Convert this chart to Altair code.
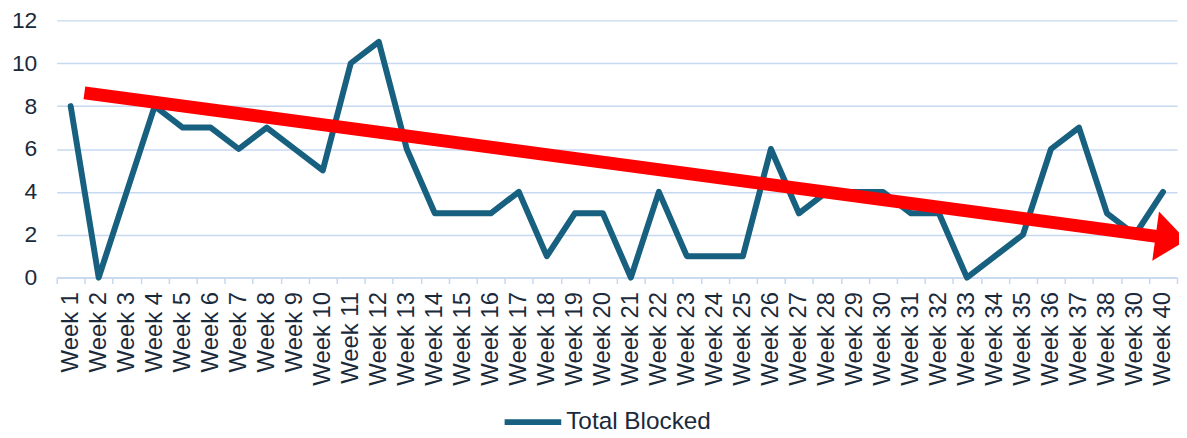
import altair as alt
import pandas as pd

weeks = list(range(1, 41))
week_labels = [
    "Week 1", "Week 2", "Week 3", "Week 4", "Week 5", "Week 6", "Week 7", "Week 8",
    "Week 9", "Week 10", "Week 11", "Week 12", "Week 13", "Week 14", "Week 15",
    "Week 16", "Week 17", "Week 18", "Week 19", "Week 20", "Week 21", "Week 22",
    "Week 23", "Week 24", "Week 25", "Week 26", "Week 27", "Week 28", "Week 29",
    "Week 30", "Week 31", "Week 32", "Week 33", "Week 34", "Week 35", "Week 36",
    "Week 37", "Week 38", "Week 30", "Week 40",
]
total_blocked = [8, 0, 4, 8, 7, 7, 6, 7, 6, 5,
                 10, 11, 6, 3, 3, 3, 4, 1, 3, 3,
                 0, 4, 1, 1, 1, 6, 3, 4, 4, 4,
                 3, 3, 0, 1, 2, 6, 7, 3, 2, 4]
series_name = "Total Blocked"

# hand-drawn trend arrow (in week / value units)
arrow_weeks = [1.49, 40.1]
arrow_values = [8.62, 1.87]
head_weeks = [40.22]
head_values = [1.85]

y_ticks = [0, 2, 4, 6, 8, 10, 12]

FONT = "Liberation Sans"
TEXT = "#1b2a3b"
GRID = "#c6d9f1"
LINE = "#17607f"
RED = "#ff0000"

df = pd.DataFrame({"week": weeks, "value": total_blocked, "series": series_name})
arrow_df = pd.DataFrame({"w": arrow_weeks, "v": arrow_values})
head_df = pd.DataFrame({"w": head_weeks, "v": head_values})

label_expr = "[" + ",".join("'%s'" % l for l in week_labels) + "][datum.value - 1]"

y_scale = alt.Scale(domain=[0, 12], nice=False, zero=True)
xq_scale = alt.Scale(domain=[0.5, 40.5], nice=False, zero=False)

line = alt.Chart(df).mark_line(strokeWidth=6, strokeJoin="round", strokeCap="round").encode(
    x=alt.X(
        "week:O",
        bandPosition=0.5,
        scale=alt.Scale(type="band", paddingInner=0, paddingOuter=0),
        axis=alt.Axis(
            title=None,
            labelExpr=label_expr,
            labelAngle=-90,
            labelFont=FONT,
            labelFontSize=24,
            labelColor=TEXT,
            labelPadding=8,
            tickBand="extent",
            ticks=True,
            tickSize=6,
            tickColor=GRID,
            tickWidth=1.5,
            domainColor=GRID,
            domainWidth=1.5,
            grid=False,
        ),
    ),
    y=alt.Y(
        "value:Q",
        scale=y_scale,
        axis=alt.Axis(
            title=None,
            values=y_ticks,
            grid=True,
            gridColor=GRID,
            gridWidth=1.5,
            domain=False,
            ticks=False,
            tickSize=0,
            labelFont=FONT,
            labelFontSize=23,
            labelColor=TEXT,
            labelPadding=20,
        ),
    ),
    color=alt.Color(
        "series:N",
        scale=alt.Scale(domain=[series_name], range=[LINE]),
        legend=alt.Legend(
            title=None,
            orient="none",
            legendX=448,
            legendY=373,
            symbolType="stroke",
            symbolSize=3249,
            symbolStrokeWidth=6,
            labelFont=FONT,
            labelFontSize=24.5,
            labelColor=TEXT,
            labelOffset=2,
            padding=0,
        ),
    ),
)

arrow = alt.Chart(arrow_df).mark_line(color=RED, strokeWidth=13, clip=False).encode(
    x=alt.X("w:Q", scale=xq_scale, axis=None),
    y=alt.Y("v:Q", scale=y_scale),
)

head = alt.Chart(head_df).mark_point(
    shape="M -0.55 -1 L 0.7 0 L -0.55 1 Z",
    filled=True,
    size=2500,
    angle=7.75,
    color=RED,
    opacity=1,
    strokeWidth=0,
    clip=False,
).encode(
    x=alt.X("w:Q", scale=xq_scale, axis=None),
    y=alt.Y("v:Q", scale=y_scale),
)

chart = (
    alt.layer(line, arrow, head)
    .resolve_scale(x="independent")
    .properties(
        width=1128,
        height=259,
        autosize=alt.AutoSizeParams(type="none"),
        padding={"left": 49, "top": 11, "right": 2, "bottom": 158},
        background="white",
    )
    .configure_view(stroke=None)
)

chart.save("out.html", embed_options={"renderer": "svg", "actions": False})
